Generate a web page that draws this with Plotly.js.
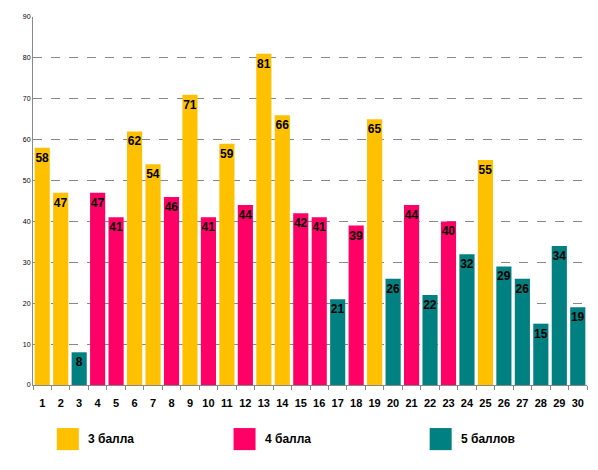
<!DOCTYPE html>
<html>
<head>
<meta charset="utf-8">
<script src="https://cdn.plot.ly/plotly-3.0.1.min.js"></script>
<style>
  html, body { margin: 0; padding: 0; background: #fff; }
  #chart { width: 598px; height: 470px; }
</style>
</head>
<body>
<div id="chart"></div>
<script>
// one bar per task number, coloured by grade group
var categories = ['1','2','3','4','5','6','7','8','9','10','11','12','13','14','15',
                  '16','17','18','19','20','21','22','23','24','25','26','27','28','29','30'];
var values = [58, 47, 8, 47, 41, 62, 54, 46, 71, 41, 59, 44, 81, 66, 42,
              41, 21, 39, 65, 26, 44, 22, 40, 32, 55, 29, 26, 15, 34, 19];
var groups = [3, 3, 5, 4, 4, 3, 3, 4, 3, 4, 3, 4, 3, 3, 4,
              4, 5, 4, 3, 5, 4, 5, 4, 5, 3, 5, 5, 5, 5, 5];
var groupKeys = [3, 4, 5];
var groupNames = ['3 балла', '4 балла', '5 баллов'];
var groupColors = ['#FFC000', '#FF0066', '#008080'];

var FONT = 'Liberation Sans, Arial, sans-serif';

function buildTrace(g, i) {
  var xs = [], ys = [];
  for (var k = 0; k < categories.length; k++) {
    if (groups[k] === g) { xs.push(categories[k]); ys.push(values[k]); }
  }
  return {
    type: 'bar',
    name: groupNames[i],
    x: xs,
    y: ys,
    text: ys.map(String),
    textposition: 'inside',
    insidetextanchor: 'end',
    constraintext: 'none',
    textangle: 0,
    textfont: {family: FONT, size: 12, color: '#000', weight: 'bold'},
    marker: {color: groupColors[i]},
    showlegend: false
  };
}

var data = groupKeys.map(buildTrace);

// legend drawn as big swatches under the axis
var legendX = [0.043, 0.362, 0.716];
var shapes = [], annotations = [];
legendX.forEach(function (lx, i) {
  shapes.push({
    type: 'rect', xref: 'paper', yref: 'paper',
    x0: lx, x1: lx + 0.0397, y0: -0.117, y1: -0.177,
    fillcolor: groupColors[i], line: {width: 0}
  });
  annotations.push({
    xref: 'paper', yref: 'paper', x: lx + 0.053, y: -0.147,
    xanchor: 'left', yanchor: 'middle', showarrow: false,
    text: '<b>' + groupNames[i] + '</b>',
    font: {family: FONT, size: 12, color: '#000'}
  });
});

var layout = {
  width: 598,
  height: 470,
  margin: {l: 33, r: 11, t: 17, b: 85},
  paper_bgcolor: '#fff',
  plot_bgcolor: '#fff',
  barmode: 'overlay',
  bargap: 0.18,
  xaxis: {
    type: 'category',
    categoryorder: 'array',
    categoryarray: categories,
    showline: true,
    linecolor: '#888',
    linewidth: 1,
    ticks: 'outside',
    tickson: 'boundaries',
    ticklen: 4,
    tickcolor: '#888',
    tickangle: 0,
    ticklabelstandoff: 8,
    showgrid: false,
    tickfont: {family: FONT, size: 11, color: '#000', weight: 'bold'},
    fixedrange: true
  },
  yaxis: {
    range: [0, 90],
    dtick: 10,
    showline: true,
    linecolor: '#888',
    linewidth: 1,
    showgrid: true,
    gridcolor: '#888',
    griddash: 'dash',
    gridwidth: 1,
    zeroline: false,
    ticks: '',
    tickfont: {family: FONT, size: 7, color: '#000'},
    fixedrange: true
  },
  shapes: shapes,
  annotations: annotations
};

Plotly.newPlot('chart', data, layout, {displayModeBar: false, staticPlot: true});
</script>
</body>
</html>
